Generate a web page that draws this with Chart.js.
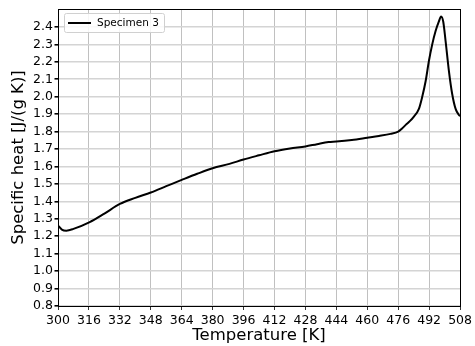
<!DOCTYPE html>
<html>
<head>
<meta charset="utf-8">
<script src="https://cdn.jsdelivr.net/npm/chart.js@4"></script>
<style>
html,body{margin:0;padding:0;background:#fff;}
#wrap{width:475px;height:346px;position:relative;}
</style>
</head>
<body>
<div id="wrap"><canvas id="c" width="475" height="346"></canvas></div>
<script>
const seriesLabel = "Specimen 3";
const temperature = [300, 302, 304.3, 308, 316.4, 324, 332, 340, 348, 356, 364, 372, 380, 388.7, 396, 404, 412, 420, 428, 434, 440, 444, 452, 460, 466, 472, 476, 478, 480, 482, 484, 486.7, 488.4, 490.2, 491.9, 493.6, 495.3, 497, 498.2, 499.3, 500.5, 502.2, 503.9, 505.7, 507.4, 508];
const specificHeat = [1.262, 1.238, 1.232, 1.242, 1.281, 1.33, 1.385, 1.42, 1.451, 1.487, 1.523, 1.558, 1.59, 1.615, 1.64, 1.664, 1.687, 1.703, 1.715, 1.728, 1.74, 1.743, 1.752, 1.765, 1.775, 1.787, 1.80, 1.818, 1.84, 1.86, 1.885, 1.93, 1.998, 2.09, 2.206, 2.30, 2.375, 2.43, 2.46, 2.43, 2.32, 2.15, 2.017, 1.93, 1.895, 1.889];
const xTicks = {min: 300, max: 508, step: 16};
const yTicks = {min: 0.8, max: 2.503, step: 0.1, lastLabel: 2.4};
const xTitle = "Temperature [K]";
const yTitle = "Specific heat [J/(g K)]";

const points = temperature.map((t, i) => ({x: t, y: specificHeat[i]}));
const FONT = "'DejaVu Sans', sans-serif";

const frame = {
  id: 'frame',
  afterDatasetsDraw(chart) {
    const {ctx, chartArea: a} = chart;
    ctx.save();
    ctx.strokeStyle = '#000';
    ctx.lineWidth = 1;
    ctx.strokeRect(Math.round(a.left) + 0.5, Math.round(a.top) + 0.5, Math.round(a.right - a.left), Math.round(a.bottom - a.top));
    // legend
    const bx = a.left + 6, by = a.top + 4, bw = 100, bh = 19;
    ctx.fillStyle = 'rgba(255,255,255,0.85)';
    ctx.strokeStyle = '#d0d0d0';
    ctx.beginPath();
    if (ctx.roundRect) ctx.roundRect(bx + 0.5, by + 0.5, bw, bh, 2); else ctx.rect(bx + 0.5, by + 0.5, bw, bh);
    ctx.fill(); ctx.stroke();
    ctx.strokeStyle = '#000';
    ctx.lineWidth = 2;
    ctx.beginPath();
    ctx.moveTo(bx + 4, by + 10); ctx.lineTo(bx + 27, by + 10);
    ctx.stroke();
    ctx.fillStyle = '#000';
    ctx.font = "10.5px " + FONT;
    ctx.textBaseline = 'middle';
    ctx.fillText(chart.data.datasets[0].label, bx + 33, by + 10.5);
    ctx.restore();
  }
};

new Chart(document.getElementById('c'), {
  type: 'line',
  data: {
    datasets: [{
      label: seriesLabel,
      data: points,
      borderColor: '#000',
      borderWidth: 2,
      pointRadius: 0,
      fill: false,
      cubicInterpolationMode: 'monotone'
    }]
  },
  options: {
    responsive: false,
    animation: false,
    layout: {padding: {top: 6, right: 14, left: 0, bottom: 0}},
    plugins: {legend: {display: false}, tooltip: {enabled: false}},
    scales: {
      x: {
        type: 'linear',
        min: xTicks.min, max: xTicks.max,
        ticks: {stepSize: xTicks.step, color: '#000', font: {family: FONT, size: 12.5}, padding: 3, maxRotation: 0, autoSkip: false},
        grid: {color: '#b0b0b0', lineWidth: 0.8, tickColor: '#000', tickLength: 4},
        border: {color: '#000', width: 1},
        title: {display: true, text: xTitle, color: '#000', font: {family: FONT, size: 16.5}, padding: {top: 2, bottom: 0}},
        afterFit(s) { s.height = 40; }
      },
      y: {
        min: yTicks.min, max: yTicks.max,
        afterBuildTicks(s) { s.ticks = s.ticks.filter(t => t.value <= yTicks.lastLabel + 0.001); },
        ticks: {stepSize: yTicks.step, color: '#000', font: {family: FONT, size: 12.5}, padding: 1.5, callback: v => Number(v).toFixed(1)},
        grid: {color: '#d4d4d4', lineWidth: 1.6, tickColor: '#000', tickLength: 3.5},
        border: {color: '#000', width: 1},
        title: {display: true, text: yTitle, color: '#000', font: {family: FONT, size: 16.5}, padding: {top: 9, bottom: 0}},
        afterFit(s) { s.width = 58; }
      }
    }
  },
  plugins: [frame]
});
</script>
</body>
</html>
